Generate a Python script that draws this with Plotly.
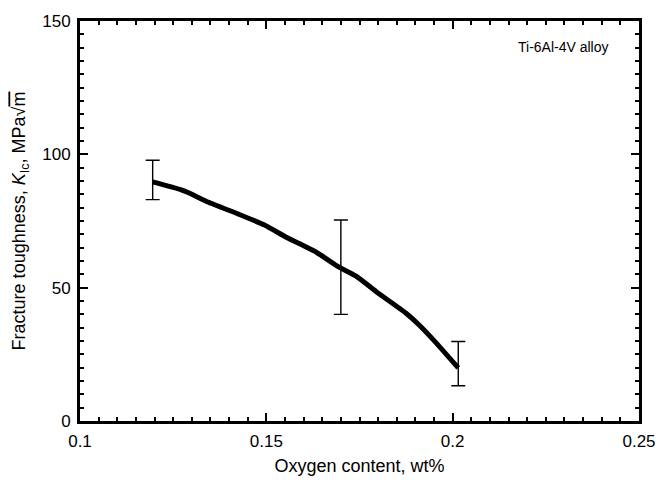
import plotly.graph_objects as go

# Curve (oxygen content wt%, KIc MPa sqrt m)
curve_x = [0.1195, 0.127, 0.129, 0.1345, 0.1425, 0.1495, 0.1555, 0.1635, 0.1695, 0.174, 0.1795, 0.1875, 0.191, 0.1955, 0.2015]
curve_y = [89.7, 86.8, 85.7, 82.0, 77.6, 73.5, 68.8, 63.2, 57.7, 54.4, 48.5, 40.4, 36.0, 29.4, 19.9]

# Error bars
err_x = [0.1195, 0.170, 0.2015]
err_y = [89.7, 57.5, 19.9]
err_hi = [97.8, 75.4, 29.8]
err_lo = [83.0, 40.0, 13.2]

x_ticks = [0.1, 0.15, 0.2, 0.25]
x_ticklabels = ["0.1", "0.15", "0.2", "0.25"]
y_ticks = [0, 50, 100, 150]
y_ticklabels = ["0", "50", "100", "150"]

FAM = "Liberation Sans, Arial, Helvetica, sans-serif"

fig = go.Figure()
fig.add_trace(go.Scatter(
    x=err_x, y=err_y, mode="markers", marker=dict(size=1, color="black", opacity=0),
    error_y=dict(type="data", symmetric=False,
                 array=[h - y for h, y in zip(err_hi, err_y)],
                 arrayminus=[y - l for l, y in zip(err_lo, err_y)],
                 color="black", thickness=1.4, width=7),
    showlegend=False, hoverinfo="skip"))
fig.add_trace(go.Scatter(
    x=curve_x, y=curve_y, mode="lines",
    line=dict(color="black", width=5, shape="spline", smoothing=0.5),
    showlegend=False))

tick_font = dict(family=FAM, size=17, color="black")
title_font = dict(family=FAM, size=18, color="black")
axis_common = dict(showgrid=False, zeroline=False, showline=True, linecolor="black", linewidth=3,
                   mirror="ticks", ticks="inside", ticklen=8, tickwidth=2, tickcolor="black",
                   tickfont=tick_font, ticklabelstandoff=3)
fig.update_xaxes(range=[0.1, 0.25], tickmode="array", tickvals=x_ticks, ticktext=x_ticklabels,
                 minor=dict(tickmode="linear", dtick=0.005, tick0=0.1, ticks="inside", ticklen=4, tickwidth=2,
                            tickcolor="black", showgrid=False),
                 title=dict(text="Oxygen content, wt%", font=title_font, standoff=9), **axis_common)
fig.update_yaxes(range=[0, 150], tickmode="array", tickvals=y_ticks, ticktext=y_ticklabels,
                 minor=dict(tickmode="linear", dtick=5, tick0=0, ticks="inside", ticklen=4, tickwidth=2,
                            tickcolor="black", showgrid=False),
                 title=dict(text="Fracture toughness, <i>K</i><sub>Ic</sub>, MPa√<span style='text-decoration:overline'>m</span>",
                            font=title_font, standoff=12), **axis_common)
fig.add_annotation(x=0.2297, y=140.4, xref="x", yref="y", text="Ti-6Al-4V alloy",
                   showarrow=False, font=dict(family=FAM, size=14, color="black"))
fig.update_layout(width=668, height=485, margin=dict(l=80, r=22, t=17, b=60),
                  paper_bgcolor="white", plot_bgcolor="white", font=tick_font)
fig.write_html("out.html")
